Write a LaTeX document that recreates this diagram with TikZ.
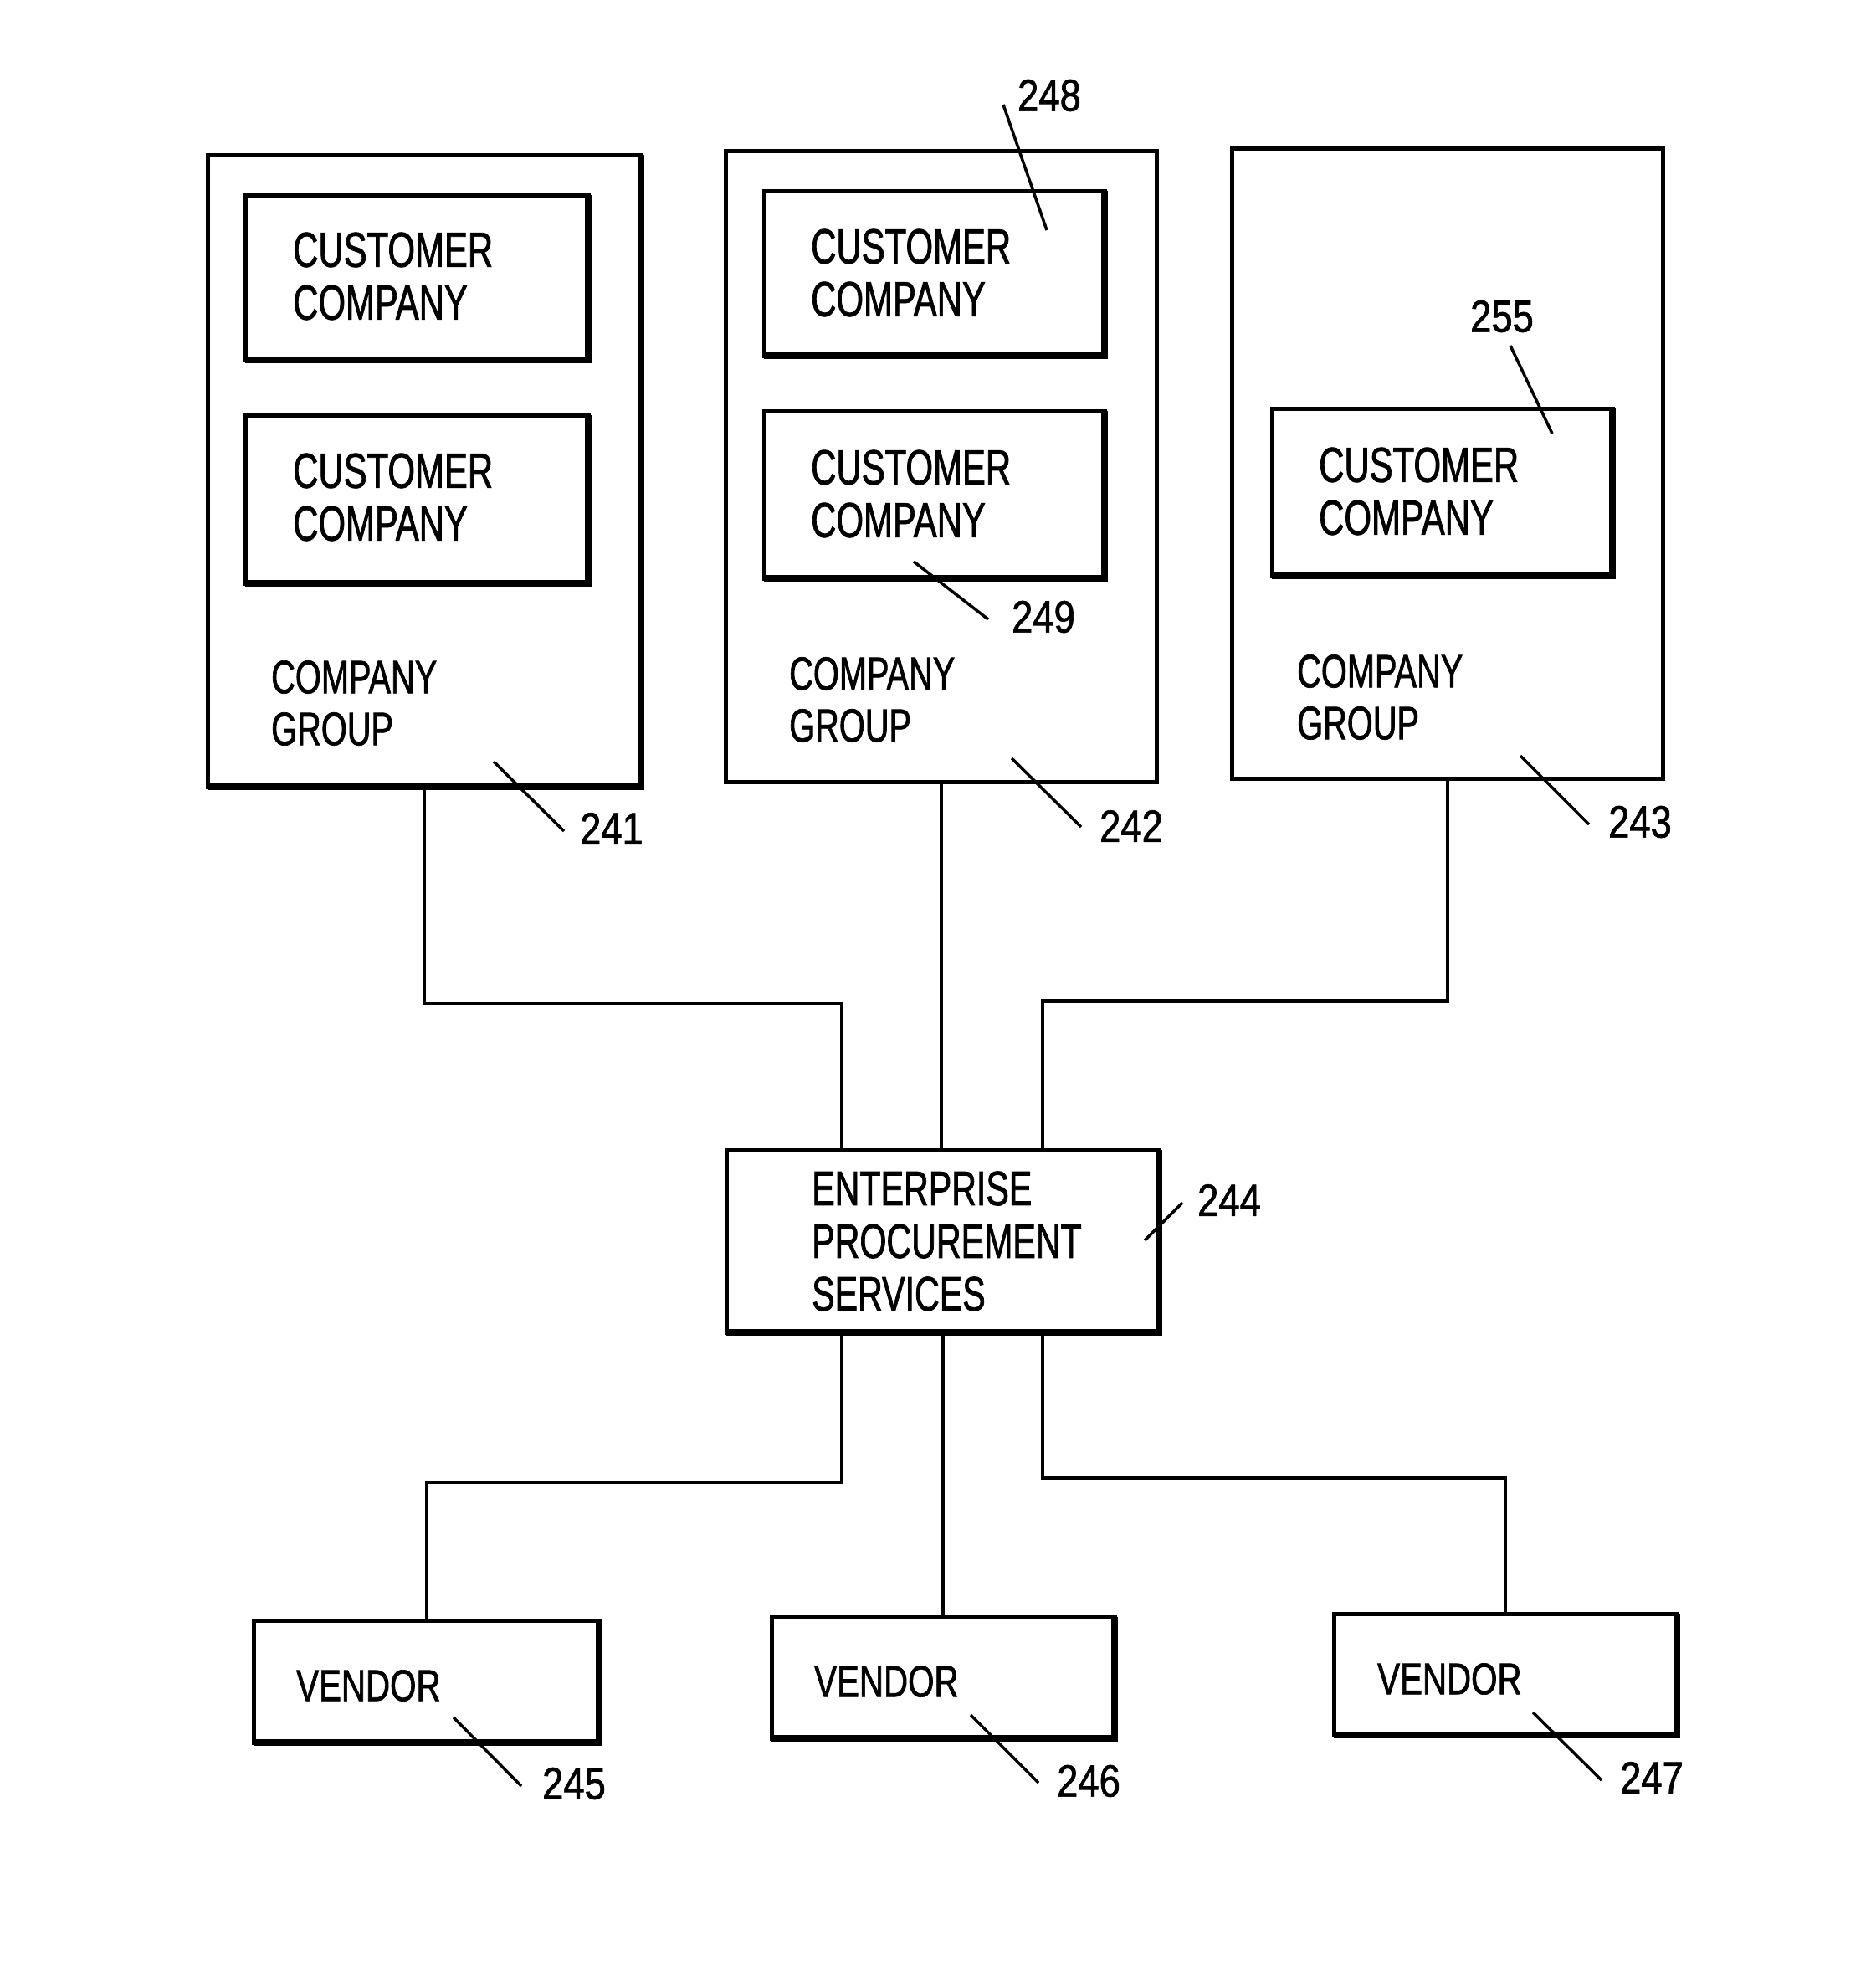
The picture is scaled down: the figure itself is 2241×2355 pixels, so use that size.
\documentclass[tikz,border=0pt]{standalone}
\usepackage{fontspec}
\setmainfont{Liberation Sans}
\newfontfamily\condfont[FakeStretch=0.71,FakeBold=1.2]{Liberation Sans}
\newfontfamily\vendfont[FakeStretch=0.76,FakeBold=1.2]{Liberation Sans}
\newfontfamily\numfont[FakeStretch=0.84,FakeBold=1.2]{Liberation Sans}
\begin{document}
\begin{tikzpicture}[x=1pt,y=-1pt,
  boxs/.style={draw, line width=5pt, rectangle, inner sep=0pt, outer sep=0pt, anchor=north west},
  txt/.style={anchor=west, inner sep=0pt, align=left, font=\condfont\fontsize{59}{63}\selectfont},
  gtxt/.style={anchor=west, inner sep=0pt, align=left, font=\condfont\fontsize{56}{62}\selectfont},
  ctxt/.style={anchor=west, inner sep=0pt, align=left, font=\condfont\fontsize{58}{63}\selectfont},
  vtxt/.style={anchor=west, inner sep=0pt, align=left, font=\vendfont\fontsize{53}{63}\selectfont},
  num/.style={inner sep=0pt, font=\numfont\fontsize{54}{60}\selectfont},
  wire/.style={line width=4pt},
  leader/.style={line width=3.5pt},
  heavy/.style={line width=8.5pt}]
\useasboundingbox (0,0) rectangle (2241,2355);
% company groups
\node[boxs, minimum width=518pt, minimum height=755pt] (G1) at (248,185) {};
\node[boxs, minimum width=515pt, minimum height=754pt] (G2) at (867,180) {};
\node[boxs, minimum width=515pt, minimum height=753pt] (G3) at (1472,177) {};
% customer companies
\node[boxs, minimum width=410pt, minimum height=197pt] (C1a) at (293,233) {};
\node[boxs, minimum width=410pt, minimum height=201pt] (C1b) at (293,496) {};
\node[boxs, minimum width=407pt, minimum height=197pt] (C2a) at (913,228) {};
\node[boxs, minimum width=407pt, minimum height=200pt] (C2b) at (913,491) {};
\node[boxs, minimum width=407pt, minimum height=200pt] (C3) at (1520,488) {};
% enterprise and vendors
\node[boxs, minimum width=517pt, minimum height=218pt] (EPS) at (868,1374) {};
\node[boxs, minimum width=413pt, minimum height=146pt] (V1) at (303,1936) {};
\node[boxs, minimum width=410pt, minimum height=145pt] (V2) at (922,1932) {};
\node[boxs, minimum width=410pt, minimum height=145pt] (V3) at (1594,1928) {};
% heavy right/bottom edges
\foreach \n in {G1,C1a,C1b,C2a,C2b,C3,EPS,V1,V2,V3}
  \draw[heavy] (\n.north east) -- (\n.south east) -- (\n.south west);
% texts
\node[txt] (t1a) at (350,330) {CUSTOMER\\COMPANY};
\node[txt] (t1b) at (350,594) {CUSTOMER\\COMPANY};
\node[txt] (t2a) at (969,326) {CUSTOMER\\COMPANY};
\node[txt] (t2b) at (969,590) {CUSTOMER\\COMPANY};
\node[txt] (t3) at (1576,587) {CUSTOMER\\COMPANY};
\node[gtxt] (g1t) at (324,840) {COMPANY\\GROUP};
\node[gtxt] (g2t) at (943,836) {COMPANY\\GROUP};
\node[gtxt] (g3t) at (1550,833) {COMPANY\\GROUP};
\node[ctxt] (epst) at (970,1483) {ENTERPRISE\\PROCUREMENT\\SERVICES};
\node[vtxt] (v1t) at (354,2014) {VENDOR};
\node[vtxt] (v2t) at (973,2009) {VENDOR};
\node[vtxt] (v3t) at (1646,2006) {VENDOR};
% connectors
\draw[wire] (G1.south) -- ++(0,259) -| ([xshift=-121pt]EPS.north);
\draw[wire] (G2.south) -- (G2.south |- EPS.north);
\draw[wire] (G3.south) -- ++(0,266) -| ([xshift=119pt]EPS.north);
\draw[wire] ([xshift=-121pt]EPS.south) -- ++(0,179) -| (V1.north);
\draw[wire] (EPS.south) -- (EPS.south |- V2.north);
\draw[wire] ([xshift=119pt]EPS.south) -- ++(0,174) -| (V3.north);
% reference labels
\node[num] (L241) at (731,990) {241};
\node[num] (L242) at (1352,987) {242};
\node[num] (L243) at (1960,982) {243};
\node[num] (L244) at (1469,1434) {244};
\node[num] (L245) at (686,2131) {245};
\node[num] (L246) at (1301,2128) {246};
\node[num] (L247) at (1974,2124) {247};
\node[num] (L248) at (1254,114) {248};
\node[num] (L249) at (1247,737) {249};
\node[num] (L255) at (1795,378) {255};
% leader lines
\coordinate (a241) at (590,910);  \coordinate (b241) at (674,993);
\coordinate (a242) at (1209,906); \coordinate (b242) at (1292,988);
\coordinate (a243) at (1817,903); \coordinate (b243) at (1899,985);
\coordinate (a244) at (1368,1482); \coordinate (b244) at (1413,1437);
\coordinate (a245) at (542,2052); \coordinate (b245) at (623,2134);
\coordinate (a246) at (1160,2049); \coordinate (b246) at (1241,2130);
\coordinate (a247) at (1832,2046); \coordinate (b247) at (1914,2127);
\coordinate (a248) at (1251,275); \coordinate (b248) at (1199,125);
\coordinate (a249) at (1092,671); \coordinate (b249) at (1181,740);
\coordinate (a255) at (1855,518); \coordinate (b255) at (1805,413);
\foreach \k in {241,242,243,244,245,246,247,248,249,255}
  \draw[leader] (a\k) -- (b\k);
\end{tikzpicture}
\end{document}
